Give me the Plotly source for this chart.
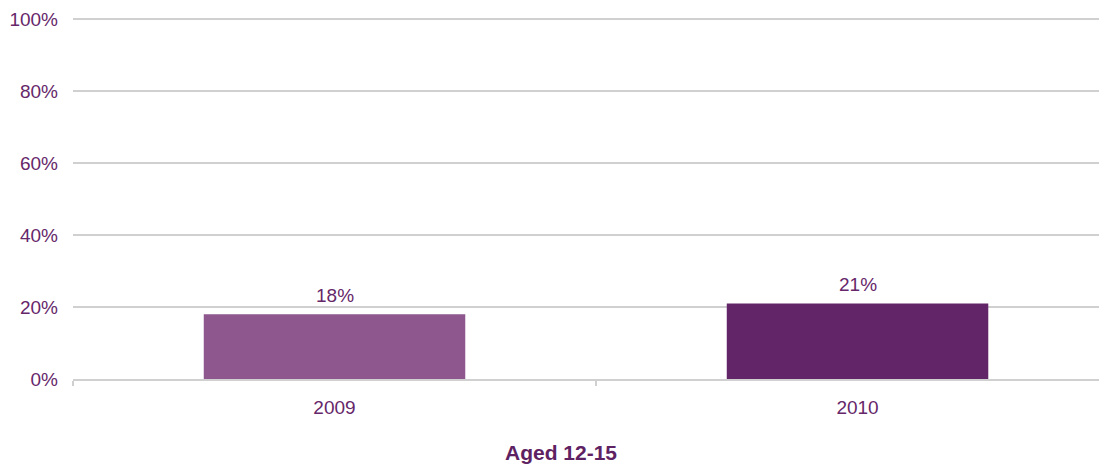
import plotly.graph_objects as go

years = ["2009", "2010"]
shares = [18, 21]
bar_colors = ["#8e578e", "#622567"]
y_ticks = [0, 20, 40, 60, 80, 100]
y_labels = ["0%", "20%", "40%", "60%", "80%", "100%"]

purple_text = "#66276a"
grid = "#d0d0d0"

fig = go.Figure()

fig.add_trace(go.Bar(
    x=years, y=shares,
    width=0.5,
    marker=dict(color=bar_colors, line=dict(width=0)),
    showlegend=False,
))

# value labels above the bars (category index as x position)
for i, v in enumerate(shares):
    fig.add_annotation(
        x=i, y=v, text=f"{v}%",
        yanchor="bottom", yshift=6, showarrow=False,
        font=dict(size=19, color=purple_text, family="Liberation Sans, Arial"),
    )

fig.add_annotation(
    text="<b>Aged 12-15</b>",
    xref="paper", x=(553 - 65) / 1034, xanchor="center",
    yref="paper", y=-73 / 361, yanchor="middle",
    showarrow=False,
    font=dict(size=21, color="#5e2262", family="Liberation Sans, Arial"),
)

# page body adds an 8px margin, so the figure is 8px smaller than the window
fig.update_layout(
    width=1099, height=458,
    margin=dict(l=65, r=0, t=10, b=87, autoexpand=False),
    plot_bgcolor="white", paper_bgcolor="white",
    font=dict(family="Liberation Sans, Arial", size=19, color=purple_text),
    xaxis=dict(
        type="category",
        range=[-0.5, 1.477],
        showline=True, linecolor=grid, linewidth=2,
        ticks="outside", tickson="boundaries", ticklen=5, tickcolor=grid, tickwidth=2,
        showgrid=False,
        tickfont=dict(size=19, color=purple_text),
        ticklabelstandoff=10,
    ),
    yaxis=dict(
        range=[0, 100.28],
        tickvals=y_ticks, ticktext=y_labels,
        showgrid=True, gridcolor=grid, gridwidth=2,
        zeroline=False, showline=False, ticks="",
        tickfont=dict(size=19, color=purple_text),
        ticklabelstandoff=14,
    ),
)

fig.write_html("out.html")
